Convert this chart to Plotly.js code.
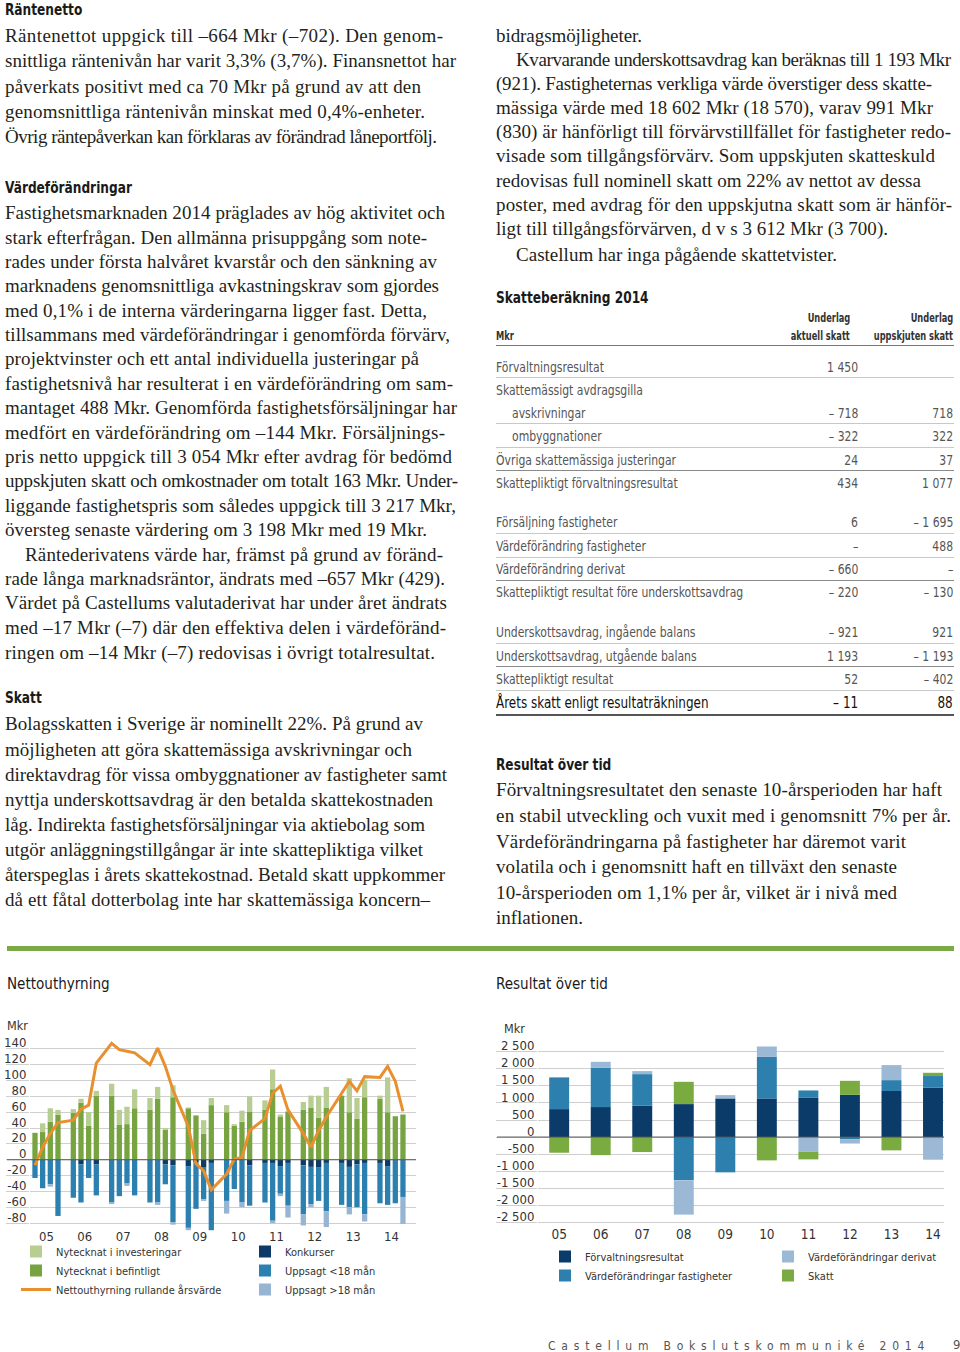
<!DOCTYPE html>
<html><head><meta charset="utf-8">
<script src="https://cdn.plot.ly/plotly-3.0.1.min.js"></script>
<style>
html,body{margin:0;padding:0;background:#fff;}
#page{position:relative;width:960px;height:1352px;overflow:hidden;background:#fff;}
.t{position:absolute;white-space:nowrap;font-family:"Liberation Serif","DejaVu Serif",serif;font-size:19px;line-height:24px;color:#231f20;}
.h{position:absolute;white-space:nowrap;font-family:"DejaVu Sans Condensed","DejaVu Sans",sans-serif;font-weight:bold;font-size:16.5px;line-height:20px;color:#1a1a1a;}
.hn{position:absolute;white-space:nowrap;font-family:"DejaVu Sans Condensed","DejaVu Sans",sans-serif;font-size:16px;line-height:20px;color:#1a1a1a;}
.tb{position:absolute;white-space:nowrap;font-family:"DejaVu Sans Condensed","DejaVu Sans",sans-serif;font-size:14px;line-height:18px;color:#555;}
.tbh{position:absolute;white-space:nowrap;font-family:"DejaVu Sans Condensed","DejaVu Sans",sans-serif;font-size:11.5px;font-weight:bold;line-height:14px;color:#333;}
.rl{position:absolute;height:1px;background:#c8c8c8;left:496px;width:458px;}
.plot{position:absolute;}
.mkr{position:absolute;white-space:nowrap;font-family:"DejaVu Sans Condensed","DejaVu Sans",sans-serif;font-size:12.5px;color:#333;line-height:16px;}
.sx{display:inline-block;}
#footer{position:absolute;left:548px;top:1338px;white-space:nowrap;font-family:"DejaVu Sans Condensed","DejaVu Sans",sans-serif;font-size:12px;letter-spacing:5.8px;color:#555;line-height:16px;}
#pnum{position:absolute;left:953px;top:1337px;font-family:"DejaVu Sans Condensed","DejaVu Sans",sans-serif;font-size:13px;color:#555;line-height:16px;}
#rule{position:absolute;left:7px;top:946px;width:947px;height:5px;background:#7aa945;}
</style>
</head>
<body>
<div id="page">
  <div id="rule"></div>
  <div class="plot" id="chart1" style="left:0px;top:1000px;width:430px;height:300px;"></div>
  <div class="plot" id="chart2" style="left:490px;top:1000px;width:470px;height:300px;"></div>
  <div class="mkr" style="left:7px;top:1018px;">Mkr</div>
  <div class="mkr" style="left:504px;top:1021px;">Mkr</div>
  <div id="footer">Castellum Bokslutskommuniké 2014</div>
  <div id="pnum">9</div>
</div>
<script>
// ---------- Chart data: Nettouthyrning (quarterly, 2005–2014) ----------
const years = ['05','06','07','08','09','10','11','12','13','14'];
const nytecknatBefintligt = [34,35,48,57, 59,72,43,81, 81,44,45,65, 63,77,38,79, 65,56,33,69, 60,43,48,61, 63,89,54,61, 63,66,53,66, 81,60,52,79, 77,60,55,57];
const nytecknatInvesteringar = [0,11,17,6, 5,5,17,6, 15,19,22,24, 15,15,2,15, 1,0,17,9, 9,2,14,19, 12,25,3,0, 10,15,28,26, 0,43,26,22, 4,44,0,1];
const konkurser = [0,0,0,0, 0,-6,0,-6, 0,0,0,0, 0,0,-6,-7, -8,-3,-10,-4, 0,0,0,-7, -4,-4,-8,-4, -7,-9,-10,-4, -4,-9,-6,-4, -4,-8,0,0];
const uppsagtUnder18 = [-23,-36,-31,-71, -48,-48,-23,-39, -54,-46,-30,-45, -54,-54,-25,-72, -78,-59,-40,-85, -52,-37,-54,-51, -50,-73,-35,-54, -62,-47,-42,-61, -53,-51,-54,-65, -51,-49,-55,-47];
const uppsagtOver18 = [0,0,-3,0, 0,0,0,0, -2,0,-3,0, 0,-3,0,-3, -3,0,-2,0, -16,0,-6,0, 0,-3,-3,-15, -14,-4,0,-20, 0,-9,0,-9, 0,0,0,-34];
const nettoRullande = [-7,16,33,47, 50,64,69,122, 147,139,137,135, 120,141,118,88, 42,-5,-14,-38, -18,1,3,37, 52,84,93,63, 33,16,37,54, 84,99,87,105, 104,118,99,61];
const yTicks1 = [-80,-60,-40,-20,0,20,40,60,80,100,120,140];
const yTickText1 = ['-80','-60','-40','-20','0','20','40','60','80','100','120','140'];

// ---------- Chart data: Resultat över tid (annual) ----------
const forvaltningsresultat = [820,880,918,967,1133,1133,1162,1240,1350,1445];
const vfFastigheter = [930,1150,928,-1270,-1035,1220,205,-60,320,345];
const vfDerivat = [0,177,88,-1005,97,303,-430,-130,440,-664];
const skatt = [-460,-530,-440,653,0,-684,-225,410,-390,95];
const yTicks2 = [-2500,-2000,-1500,-1000,-500,0,500,1000,1500,2000,2500];
const yTickText2 = ['-2 500','-2 000','-1 500','-1 000','-500','0','500','1 000','1 500','2 000','2 500'];

// ---------- Table data: Skatteberäkning 2014 ----------
const taxLabels = ['Förvaltningsresultat','Skattemässigt avdragsgilla','avskrivningar','ombyggnationer','Övriga skattemässiga justeringar','Skattepliktigt förvaltningsresultat','Försäljning fastigheter','Värdeförändring fastigheter','Värdeförändring derivat','Skattepliktigt resultat före underskottsavdrag','Underskottsavdrag, ingående balans','Underskottsavdrag, utgående balans','Skattepliktigt resultat','Årets skatt enligt resultaträkningen'];
const taxCurrent = ['1 450','','– 718','– 322','24','434','6','–','– 660','– 220','– 921','1 193','52','– 11'];
const taxDeferred = ['','','718','322','37','1 077','– 1 695','488','–','– 130','921','– 1 193','– 402','88'];

// ---------- Page text ----------
const page = document.getElementById('page');
function add(cls, x, y, text, extra, scale, origin){
  const d = document.createElement('div');
  d.className = cls; d.style.left = x+'px'; d.style.top = y+'px';
  if (scale) {
    const s = document.createElement('span');
    s.className = 'sx'; s.textContent = text;
    s.style.transform = 'scaleX(' + scale + ')';
    s.style.transformOrigin = (origin || 'left') + ' center';
    d.appendChild(s);
  } else d.textContent = text;
  if(extra) Object.assign(d.style, extra);
  page.appendChild(d); return d;
}
function heading(x, c, text, cls){ add(cls||'h', x, c-10, text, null, cls ? 0.94 : 0.82); }
// each line: [centre y, text, right end x of the printed line, indent]
function lines(x, arr){
  arr.forEach(([c, s, end, ind]) => {
    const x0 = x + (ind||0);
    const d = add('t', x0, c-12, s);
    const w = d.getBoundingClientRect().width;
    const ls = (end - x0 - w) / Math.max(1, s.length - 1);
    d.style.letterSpacing = ls.toFixed(3) + 'px';
  });
}

heading(5, 10, 'Räntenetto');
lines(5, [
 [36,'Räntenettot uppgick till –664 Mkr (–702). Den genom-',443],
 [61,'snittliga räntenivån har varit 3,3% (3,7%). Finansnettot har',456],
 [87,'påverkats positivt med ca 70 Mkr på grund av att den',421],
 [112,'genomsnittliga räntenivån minskat med 0,4%-enheter.',425],
 [137,'Övrig räntepåverkan kan förklaras av förändrad låneportfölj.',437]
]);
heading(5, 188, 'Värdeförändringar');
lines(5, [
 [213,'Fastighetsmarknaden 2014 präglades av hög aktivitet och',445],
 [238,'stark efterfrågan. Den allmänna prisuppgång som note-',427],
 [262,'rades under första halvåret kvarstår och den sänkning av',437],
 [286,'marknadens genomsnittliga avkastningskrav som gjordes',439],
 [311,'med 0,1% i de interna värderingarna ligger fast. Detta,',427],
 [335,'tillsammans med värdeförändringar i genomförda förvärv,',450],
 [359,'projektvinster och ett antal individuella justeringar på',419],
 [384,'fastighetsnivå har resulterat i en värdeförändring om sam-',453],
 [408,'mantaget 488 Mkr. Genomförda fastighetsförsäljningar har',457],
 [433,'medfört en värdeförändring om –144 Mkr. Försäljnings-',445],
 [457,'pris netto uppgick till 3 054 Mkr efter avdrag för bedömd',452],
 [481,'uppskjuten skatt och omkostnader om totalt 163 Mkr. Under-',458],
 [506,'liggande fastighetspris som således uppgick till 3 217 Mkr,',456],
 [530,'översteg senaste värdering om 3 198 Mkr med 19 Mkr.',427],
 [555,'Räntederivatens värde har, främst på grund av föränd-',443,20],
 [579,'rade långa marknadsräntor, ändrats med –657 Mkr (429).',445],
 [603,'Värdet på Castellums valutaderivat har under året ändrats',447],
 [628,'med –17 Mkr (–7) där den effektiva delen i värdeföränd-',446],
 [653,'ringen om –14 Mkr (–7) redovisas i övrigt totalresultat.',435]
]);
heading(5, 698, 'Skatt');
lines(5, [
 [724,'Bolagsskatten i Sverige är nominellt 22%. På grund av',423],
 [750,'möjligheten att göra skattemässiga avskrivningar och',412],
 [775,'direktavdrag för vissa ombyggnationer av fastigheter samt',447],
 [800,'nyttja underskottsavdrag är den betalda skattekostnaden',433],
 [825,'låg. Indirekta fastighetsförsäljningar via aktiebolag som',425],
 [850,'utgör anläggningstillgångar är inte skattepliktiga vilket',423],
 [875,'återspeglas i årets skattekostnad. Betald skatt uppkommer',445],
 [900,'då ett fåtal dotterbolag inte har skattemässiga koncern–',430]
]);
lines(496, [
 [36,'bidragsmöjligheter.',642],
 [60,'Kvarvarande underskottsavdrag kan beräknas till 1 193 Mkr',951,20],
 [84,'(921). Fastigheternas verkliga värde överstiger dess skatte-',932],
 [108,'mässiga värde med 18 602 Mkr (18 570), varav 991 Mkr',933],
 [132,'(830) är hänförligt till förvärvstillfället för fastigheter redo-',951],
 [156,'visade som tillgångsförvärv. Som uppskjuten skatteskuld',935],
 [181,'redovisas full nominell skatt om 22% av nettot av dessa',921],
 [205,'poster, med avdrag för den uppskjutna skatt som är hänför-',952],
 [229,'ligt till tillgångsförvärven, d v s 3 612 Mkr (3 700).',888],
 [255,'Castellum har inga pågående skattetvister.',837,20]
]);
heading(496, 298, 'Skatteberäkning 2014');
heading(496, 765, 'Resultat över tid');
lines(496, [
 [790,'Förvaltningsresultatet den senaste 10-årsperioden har haft',942],
 [816,'en stabil utveckling och vuxit med i genomsnitt 7% per år.',951],
 [842,'Värdeförändringarna på fastigheter har däremot varit',906],
 [867,'volatila och i genomsnitt haft en tillväxt den senaste',897],
 [893,'10-årsperioden om 1,1% per år, vilket är i nivå med',897],
 [918,'inflationen.',583]
]);
heading(7, 984, 'Nettouthyrning', 'hn');
heading(496, 984, 'Resultat över tid', 'hn');

// ---------- Table ----------
function addRight(cls, right, c, h, text, extra, scale){
  const d = add(cls, 0, c - h/2, text, extra, scale, 'right');
  d.style.left = ''; d.style.right = (960 - right) + 'px';
  return d;
}
addRight('tbh', 850, 318, 14, 'Underlag', null, 0.8);
addRight('tbh', 953, 318, 14, 'Underlag', null, 0.8);
add('tbh', 496, 336-7, 'Mkr', null, 0.8);
addRight('tbh', 850, 336, 14, 'aktuell skatt', null, 0.8);
addRight('tbh', 953, 336, 14, 'uppskjuten skatt', null, 0.8);
add('rl', 496, 345, '', {background:'#777'});
const rowC = [367,390,413,436,460,483,522,546,569,592,632,656,679,703];
const rowLine = [377,null,423,447,470,null,533,557,580,null,643,666,690,714];
const rowLineCol = ['#c8c8c8',null,'#c8c8c8','#c8c8c8','#8a8a8a',null,'#c8c8c8','#c8c8c8','#8a8a8a',null,'#c8c8c8','#8a8a8a','#c8c8c8','#555'];
taxLabels.forEach((lab, i) => {
  const last = i === taxLabels.length - 1;
  const ind = (i === 2 || i === 3) ? 16 : 0;
  const ex = last ? {color:'#111', fontSize:'15.5px'} : null;
  add('tb', 496 + ind, rowC[i]-9, lab, ex, 0.86);
  if (taxCurrent[i]) addRight('tb', 858, rowC[i], 18, taxCurrent[i], ex, 0.86);
  if (taxDeferred[i]) addRight('tb', 953, rowC[i], 18, taxDeferred[i], ex, 0.86);
  if (rowLine[i]) add('rl', 496, rowLine[i], '', {background: rowLineCol[i], height: last ? '1.5px' : '1px'});
});

// ---------- Plotly charts ----------
const FONT = 'DejaVu Sans Condensed, DejaVu Sans, sans-serif';
const GRID = '#cfcfcf';

// Chart 1
const qx = nytecknatBefintligt.map((_, i) => Math.floor(i/4)*5 + (i%4));
const yearCenters1 = years.map((_, i) => i*5 + 1.5);
const c1W = 430, c1H = 300;
const m1 = {l:30, r:14, t:41, b:69, autoexpand:false};
const tr1 = [
  {type:'bar', name:'Nytecknat i befintligt', x:qx, y:nytecknatBefintligt, marker:{color:'#77a441'}, legend:'legend', legendrank:2},
  {type:'bar', name:'Nytecknat i investeringar', x:qx, y:nytecknatInvesteringar, marker:{color:'#b7cd92'}, legend:'legend', legendrank:1},
  {type:'bar', name:'Konkurser', x:qx, y:konkurser, marker:{color:'#0d3a66'}, legend:'legend2', legendrank:1},
  {type:'bar', name:'Uppsagt <18 mån', x:qx, y:uppsagtUnder18, marker:{color:'#2b80b0'}, legend:'legend2', legendrank:2},
  {type:'bar', name:'Uppsagt >18 mån', x:qx, y:uppsagtOver18, marker:{color:'#97b5d3'}, legend:'legend2', legendrank:3},
  {type:'scatter', mode:'lines', name:'Nettouthyrning rullande årsvärde', x:qx, y:nettoRullande, line:{color:'#e8902f', width:3}, legend:'legend', legendrank:3}
];
const legBase = {xref:'container', yref:'container', xanchor:'left', yanchor:'top', bgcolor:'rgba(0,0,0,0)', font:{family:FONT, size:11, color:'#333'}, tracegroupgap:0, orientation:'v'};
const lay1 = {
  width:c1W, height:c1H, margin:m1, paper_bgcolor:'rgba(0,0,0,0)', plot_bgcolor:'rgba(0,0,0,0)',
  barmode:'relative', bargap:0.31, showlegend:true,
  font:{family:FONT, color:'#333', size:13},
  xaxis:{range:[-0.65, 49.7], tickvals:yearCenters1, ticktext:years, showgrid:false, zeroline:false, showline:false, ticks:'', ticklabelstandoff:-4, tickfont:{size:13, color:'#333'}, fixedrange:true, automargin:false},
  yaxis:{range:[-90,150], tickvals:yTicks1, ticktext:yTickText1, showgrid:true, gridcolor:GRID, gridwidth:1, zeroline:false, showline:false, ticks:'outside', ticklen:23, tickcolor:GRID, tickwidth:1, ticklabelstandoff:-23, ticklabelshift:-6, tickfont:{size:13, color:'#333'}, fixedrange:true, automargin:false},
  shapes:[{type:'line', xref:'paper', yref:'y', x0:-23/386, x1:1, y0:0, y1:0, line:{color:'#555', width:1}, layer:'above'}],
  legend:Object.assign({}, legBase, {x:16/c1W, y:1-237/c1H}),
  legend2:Object.assign({}, legBase, {x:245/c1W, y:1-237/c1H}),
  hovermode:false
};
Plotly.newPlot('chart1', tr1, lay1, {staticPlot:true, displayModeBar:false});

// Chart 2
const c2W = 470, c2H = 300;
const m2 = {l:48, r:16, t:45, b:76, autoexpand:false};
const tr2 = [
  {type:'bar', name:'Förvaltningsresultat', x:years, y:forvaltningsresultat, marker:{color:'#0b3b69'}, legend:'legend', legendrank:1},
  {type:'bar', name:'Värdeförändringar fastigheter', x:years, y:vfFastigheter, marker:{color:'#2d80ad'}, legend:'legend', legendrank:2},
  {type:'bar', name:'Värdeförändringar derivat', x:years, y:vfDerivat, marker:{color:'#9bb8d5'}, legend:'legend2', legendrank:1},
  {type:'bar', name:'Skatt', x:years, y:skatt, marker:{color:'#7aab40'}, legend:'legend2', legendrank:2}
];
const lay2 = {
  width:c2W, height:c2H, margin:m2, paper_bgcolor:'rgba(0,0,0,0)', plot_bgcolor:'rgba(0,0,0,0)',
  barmode:'relative', bargap:0.52, showlegend:true,
  font:{family:FONT, color:'#333', size:13},
  xaxis:{type:'category', range:[-0.51, 9.265], showgrid:false, zeroline:false, showline:false, ticks:'', tickfont:{size:13.5, color:'#333'}, fixedrange:true, automargin:false},
  yaxis:{range:[-2550,2700], tickvals:yTicks2, ticktext:yTickText2, showgrid:true, gridcolor:GRID, gridwidth:1, zeroline:false, showline:false, ticks:'outside', ticklen:41, tickcolor:GRID, tickwidth:1, ticklabelstandoff:-41, ticklabelshift:-6, tickfont:{size:13, color:'#333'}, fixedrange:true, automargin:false},
  shapes:[{type:'line', xref:'paper', yref:'y', x0:-41/406, x1:1, y0:0, y1:0, line:{color:'#555', width:1}, layer:'above'}],
  legend:Object.assign({}, legBase, {x:55/c2W, y:1-242/c2H}),
  legend2:Object.assign({}, legBase, {x:278/c2W, y:1-242/c2H}),
  hovermode:false
};
Plotly.newPlot('chart2', tr2, lay2, {staticPlot:true, displayModeBar:false});
</script>
</body></html>
